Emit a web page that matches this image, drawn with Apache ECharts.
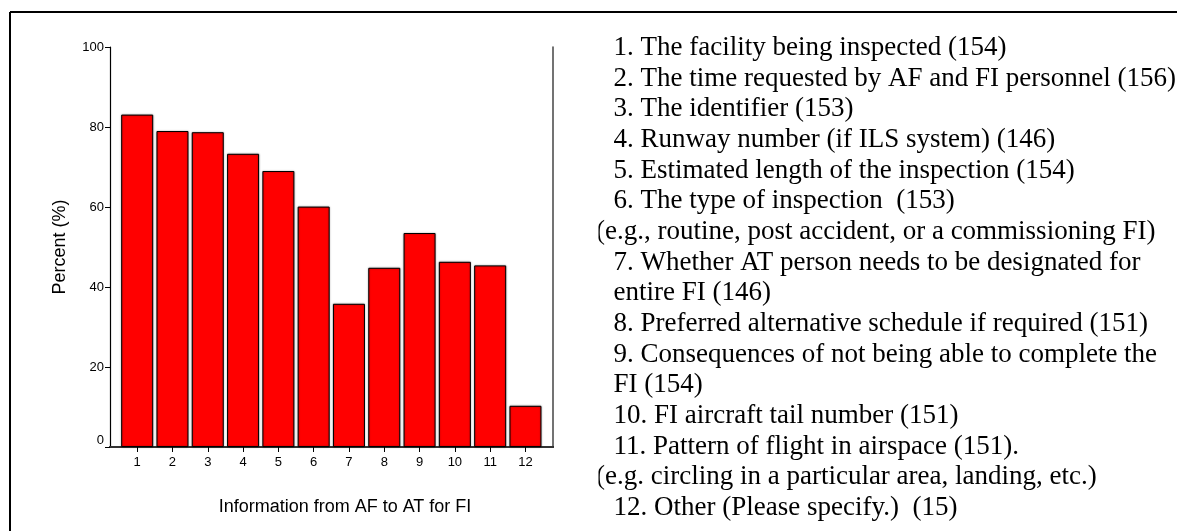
<!DOCTYPE html>
<html>
<head>
<meta charset="utf-8">
<script src="https://cdn.jsdelivr.net/npm/echarts@6/dist/echarts.min.js"></script>
<style>
  html, body { margin: 0; padding: 0; background: #fff; }
  #chart { width: 1177px; height: 531px; }
</style>
</head>
<body>
<div id="chart"></div>
<script>
// Item numbers on the x axis
const categories = [1, 2, 3, 4, 5, 6, 7, 8, 9, 10, 11, 12];
// Percent of respondents per item
const percents = [83.1, 79.0, 78.7, 73.3, 69.0, 60.1, 35.8, 44.8, 53.5, 46.3, 45.4, 10.3];
// Y axis tick values
const yTicks = [0, 20, 40, 60, 80, 100];

// Key text shown beside the plot; indent marks continuation lines
const keyLines = [
  { text: '1. The facility being inspected (154)', indent: 'item' },
  { text: '2. The time requested by AF and FI personnel (156)', indent: 'item' },
  { text: '3. The identifier (153)', indent: 'item' },
  { text: '4. Runway number (if ILS system) (146)', indent: 'item' },
  { text: '5. Estimated length of the inspection (154)', indent: 'item' },
  { text: '6. The type of inspection  (153)', indent: 'item' },
  { text: '(e.g., routine, post accident, or a commissioning FI)', indent: 'note' },
  { text: '7. Whether AT person needs to be designated for', indent: 'item' },
  { text: 'entire FI (146)', indent: 'item' },
  { text: '8. Preferred alternative schedule if required (151)', indent: 'item' },
  { text: '9. Consequences of not being able to complete the', indent: 'item' },
  { text: 'FI (154)', indent: 'item' },
  { text: '10. FI aircraft tail number (151)', indent: 'item' },
  { text: '11. Pattern of flight in airspace (151).', indent: 'item' },
  { text: '(e.g. circling in a particular area, landing, etc.)', indent: 'note' },
  { text: '12. Other (Please specify.)  (15)', indent: 'item' }
];

const xTitle = 'Information from AF to AT for FI';
const yTitle = 'Percent (%)';

const chart = echarts.init(document.getElementById('chart'), null, { renderer: 'canvas' });

const sans = '"Liberation Sans", Arial, sans-serif';
const serif = '"Liberation Serif", "Times New Roman", serif';

// Key text block
const keyTop = 48, keyStep = 30.67;
const keyGraphics = [];
keyLines.forEach((line, i) => {
  keyGraphics.push({
    type: 'text',
    x: line.indent === 'note' ? 596 : 613.5,
    y: keyTop + i * keyStep,
    z: 10,
    style: {
      text: line.text,
      font: '27px ' + serif,
      fill: '#000',
      textAlign: 'left',
      textVerticalAlign: 'middle'
    }
  });
  if (line.indent === 'note') {
    // text box edge trims the opening parenthesis
    keyGraphics.push({
      type: 'rect',
      z: 11,
      shape: { x: 588, y: keyTop + i * keyStep - 16, width: 10.5, height: 32 },
      style: { fill: '#fff' }
    });
  }
});

const option = {
  animation: false,
  backgroundColor: '#fff',
  grid: { left: 110, top: 47, width: 443, height: 400, containLabel: false },
  xAxis: [
    {
      type: 'value',
      min: 0.23,
      max: 12.78,
      position: 'bottom',
      axisLine: { show: true, lineStyle: { color: '#000', width: 2 } },
      axisTick: { show: true, length: 5, lineStyle: { color: '#000', width: 1 }, customValues: categories },
      axisLabel: { show: true, customValues: categories, color: '#000', fontSize: 13, fontFamily: sans, margin: 9 },
      splitLine: { show: false }
    },
    {
      type: 'value',
      min: 0.23,
      max: 12.78,
      position: 'top',
      axisLine: { show: true, lineStyle: { color: '#444', width: 1.5 } },
      axisTick: { show: false },
      axisLabel: { show: false },
      splitLine: { show: false }
    }
  ],
  yAxis: [
    {
      type: 'value',
      min: 0,
      max: 100,
      interval: 20,
      position: 'left',
      axisLine: { show: true, lineStyle: { color: '#000', width: 1.2 } },
      axisTick: { show: true, inside: false, length: 5, lineStyle: { color: '#000', width: 1 } },
      axisLabel: {
        color: '#000', fontSize: 13, fontFamily: sans, margin: 6,
        formatter: v => (v === 0 ? '{z|0}' : String(v)),
        rich: { z: { fontSize: 13, fontFamily: sans, color: '#000', padding: [0, 0, 14, 0] } }
      },
      splitLine: { show: false }
    },
    {
      type: 'value',
      min: 0,
      max: 100,
      position: 'right',
      axisLine: { show: true, lineStyle: { color: '#444', width: 1.5 } },
      axisTick: { show: false },
      axisLabel: { show: false },
      splitLine: { show: false }
    }
  ],
  series: [
    {
      type: 'bar',
      xAxisIndex: 0,
      yAxisIndex: 0,
      barWidth: 32,
      data: categories.map((c, i) => [c, percents[i]]),
      itemStyle: {
        color: '#ff0000',
        borderColor: '#000',
        borderWidth: 1,
        shadowColor: 'rgba(0,0,0,0.35)',
        shadowBlur: 2
      },
      emphasis: { disabled: true }
    }
  ],
  graphic: [
    // outer frame (top and left edges)
    { type: 'line', shape: { x1: 10, y1: 12, x2: 1177, y2: 12 }, style: { stroke: '#000', lineWidth: 2 } },
    { type: 'line', shape: { x1: 10, y1: 12, x2: 10, y2: 531 }, style: { stroke: '#000', lineWidth: 2 } },
    {
      type: 'text', x: 60, y: 247, rotation: Math.PI / 2,
      style: { text: yTitle, font: '18px ' + sans, fill: '#000', textAlign: 'center', textVerticalAlign: 'middle' }
    },
    {
      type: 'text', x: 345, y: 507,
      style: { text: xTitle, font: '18px ' + sans, fill: '#000', textAlign: 'center', textVerticalAlign: 'middle' }
    }
  ].concat(keyGraphics)
};

chart.setOption(option);
</script>
</body>
</html>
